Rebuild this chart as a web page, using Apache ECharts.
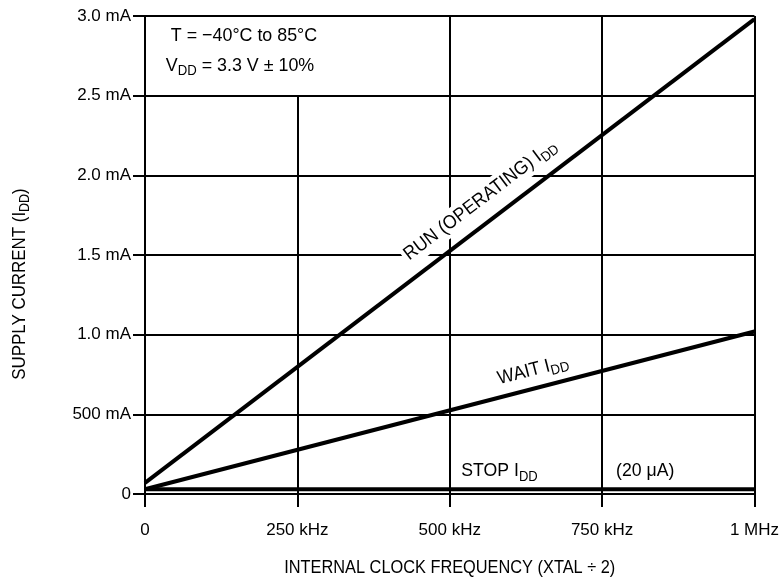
<!DOCTYPE html>
<html>
<head>
<meta charset="utf-8">
<script src="https://cdn.jsdelivr.net/npm/echarts@6/dist/echarts.min.js"></script>
<style>html,body{margin:0;padding:0;background:#fff}#c{width:782px;height:581px}</style>
</head>
<body>
<div id="c"></div>
<script>
const FONT = "'Liberation Sans',Arial,sans-serif";
const xTickLabels = ['0', '250 kHz', '500 kHz', '750 kHz', '1 MHz'];
const yTickLabels = ['0', '500 mA', '1.0 mA', '1.5 mA', '2.0 mA', '2.5 mA', '3.0 mA'];
const freqKHz = [0, 1000];
const runIdd = [0.07, 2.98];
const waitIdd = [0.03, 1.02];
const stopIdd = [0.03, 0.03];

const chart = echarts.init(document.getElementById('c'), null, {renderer: 'canvas'});
const pair = (xs, ys) => xs.map((x, i) => [x, ys[i]]);

const option = {
  animation: false,
  backgroundColor: '#fff',
  grid: {left: 145, right: 23, top: 16, bottom: 87, containLabel: false},
  xAxis: {
    type: 'value', min: 0, max: 1000, interval: 250,
    axisLine: {lineStyle: {color: '#000', width: 2}},
    axisTick: {show: true, length: 13, lineStyle: {color: '#000', width: 2}},
    axisLabel: {fontFamily: FONT, fontSize: 17, color: '#000', margin: 28,
      formatter: v => xTickLabels[Math.round(v / 250)]},
    splitLine: {show: true, lineStyle: {color: ['#000', 'rgba(0,0,0,0)', '#000', '#000', '#000'], width: 2}}
  },
  yAxis: {
    type: 'value', min: 0, max: 3, interval: 0.5,
    axisLine: {show: true, lineStyle: {color: '#000', width: 2}},
    axisTick: {show: true, length: 12, lineStyle: {color: '#000', width: 2}},
    axisLabel: {fontFamily: FONT, fontSize: 17, color: '#000', margin: 14,
      formatter: v => yTickLabels[Math.round(v / 0.5)]},
    splitLine: {show: true, lineStyle: {color: '#000', width: 2}}
  },
  series: [
    {type: 'line', name: 'RUN', data: pair(freqKHz, runIdd), showSymbol: false,
      lineStyle: {color: '#000', width: 4}, z: 5,
      markLine: {silent: true, symbol: 'none', label: {show: false},
        lineStyle: {color: '#000', width: 2, type: 'solid'},
        data: [[{coord: [250, 0]}, {coord: [250, 2.5]}]]}},
    {type: 'line', name: 'WAIT', data: pair(freqKHz, waitIdd), showSymbol: false,
      lineStyle: {color: '#000', width: 4}, z: 5},
    {type: 'line', name: 'STOP', data: pair(freqKHz, stopIdd), showSymbol: false,
      lineStyle: {color: '#000', width: 4}, z: 5}
  ]
};
chart.setOption(option);

function richStyle(size) {
  return {
    a: {fontFamily: FONT, fontSize: size, color: '#000'},
    s: {fontFamily: FONT, fontSize: Math.round(size * 0.75), color: '#000', padding: [11, 0, 0, 0]}
  };
}
function txt(x, y, text, sx, align) {
  return {type: 'text', x: x, y: y, z: 100, scaleX: sx, scaleY: 1,
    style: {text: text, rich: richStyle(19), fontFamily: FONT, fontSize: 19, fill: '#000',
      align: align || 'center', verticalAlign: 'middle'}};
}
function lineLabel(xs, ys, atX, off, text, sx) {
  const p0 = chart.convertToPixel({gridIndex: 0}, [xs[0], ys[0]]);
  const p1 = chart.convertToPixel({gridIndex: 0}, [xs[1], ys[1]]);
  const a = Math.atan2(p0[1] - p1[1], p1[0] - p0[0]);
  const t = (atX - xs[0]) / (xs[1] - xs[0]);
  const ax = p0[0] + (p1[0] - p0[0]) * t, ay = p0[1] + (p1[1] - p0[1]) * t;
  const el = txt(ax - off * Math.sin(a), ay - off * Math.cos(a), text, sx);
  el.rotation = a;
  el.style.backgroundColor = '#fff';
  el.style.padding = [0, 3, 0, 3];
  return el;
}
const stopPt = chart.convertToPixel({gridIndex: 0}, [519, stopIdd[0]]);
const noteX = chart.convertToPixel({gridIndex: 0}, [773, stopIdd[0]]);
const axisBottom = chart.convertToPixel({gridIndex: 0}, [500, 0]);
const ytitle = txt(20, 284, '{a|SUPPLY CURRENT (I}{s|DD}{a|)}', 0.89);
ytitle.rotation = Math.PI / 2;
chart.setOption({
  graphic: [
    lineLabel(freqKHz, runIdd, 572, 22, '{a|RUN (OPERATING) I}{s|DD}', 0.93),
    lineLabel(freqKHz, waitIdd, 644, 18, '{a|WAIT I}{s|DD}', 0.93),
    txt(stopPt[0], stopPt[1] - 18, '{a|STOP I}{s|DD}', 0.93, 'left'),
    txt(noteX[0], stopPt[1] - 18, '{a|(20 \u03BCA)}', 0.93, 'left'),
    txt(244, 36, '{a|T = \u221240\u00B0C to 85\u00B0C}', 0.94),
    txt(240, 66, '{a|V}{s|DD}{a| = 3.3 V \u00B1 10%}', 0.94),
    txt(axisBottom[0], axisBottom[1] + 74, '{a|INTERNAL CLOCK FREQUENCY (XTAL \u00F7 2)}', 0.86),
    ytitle
  ]
});
</script>
</body>
</html>
